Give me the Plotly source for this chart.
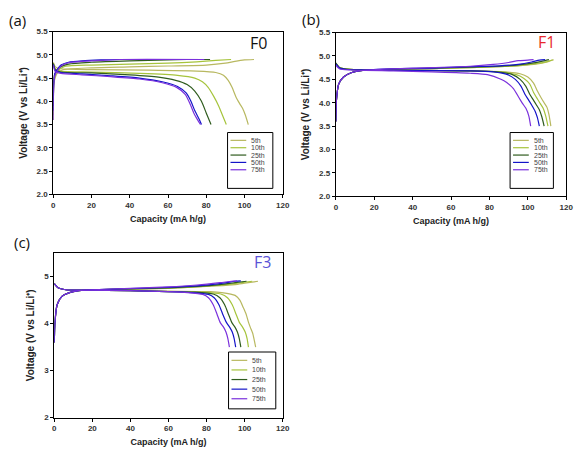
import plotly.graph_objects as go

CYCLE_LABELS = ["5th", "10th", "25th", "50th", "75th"]
CYCLE_COLORS = ["#b8b860", "#a6c43c", "#2f5c1e", "#1414c8", "#7a30dc"]
X_TICKS = [0, 20, 40, 60, 80, 100, 120]
Y_TICKS_AB = [2.0, 2.5, 3.0, 3.5, 4.0, 4.5, 5.0, 5.5]
Y_TICKS_C = [2, 3, 4, 5]
PANEL_TAGS = ["(a)", "(b)", "(c)"]
SAMPLE_NAMES = ["F0", "F1", "F3"]
SAMPLE_COLORS = ["#111111", "#e8282c", "#5a52d6"]

# ---------------- F0 (a): charge points, None, discharge points ----------------
F0_5th_cap = [0, 0.4, 2, 5, 20, 40, 60, 80, 90, 95, 100, 105, None,
              0, 1, 4, 20, 50, 75, 85, 89, 91.5, 93.5, 95.5, 97.5, 99, 100.5, 102]
F0_5th_v = [3.6, 4.4, 4.6, 4.68, 4.72, 4.74, 4.76, 4.78, 4.82, 4.86, 4.89, 4.9, None,
            4.84, 4.74, 4.7, 4.68, 4.67, 4.65, 4.62, 4.56, 4.45, 4.3, 4.1, 3.95, 3.85, 3.7, 3.5]
F0_10th_cap = [0, 0.4, 2, 6, 20, 40, 60, 75, 85, 93, None,
               0, 1, 4, 20, 45, 65, 74, 78, 81, 84, 86.5, 88.5, 90.5]
F0_10th_v = [3.7, 4.45, 4.65, 4.75, 4.78, 4.8, 4.82, 4.85, 4.88, 4.9, None,
             4.82, 4.7, 4.65, 4.63, 4.6, 4.56, 4.5, 4.42, 4.3, 4.1, 3.9, 3.7, 3.5]
F0_25th_cap = [0, 0.5, 3, 8, 20, 40, 60, 70, 82, None,
               0, 1, 4, 20, 40, 55, 64, 70, 74, 77.5, 80, 82.5]
F0_25th_v = [3.9, 4.55, 4.72, 4.8, 4.84, 4.87, 4.89, 4.9, 4.9, None,
             4.82, 4.68, 4.63, 4.61, 4.57, 4.52, 4.45, 4.36, 4.22, 4.0, 3.75, 3.5]
F0_50th_cap = [0, 0.8, 4, 8, 15, 25, 35, 78, None,
               0, 1, 4, 15, 30, 45, 57, 65, 69.5, 72, 74, 76.5, 77.5]
F0_50th_v = [3.8, 4.6, 4.78, 4.84, 4.87, 4.89, 4.9, 4.9, None,
             4.8, 4.66, 4.62, 4.59, 4.55, 4.5, 4.42, 4.32, 4.18, 4.0, 3.8, 3.6, 3.5]
F0_75th_cap = [0, 0.8, 4, 8, 15, 25, 35, 79, None,
               0, 1, 4, 15, 30, 45, 57, 64.5, 69, 71.5, 73.5, 75.5, 77]
F0_75th_v = [3.6, 4.55, 4.76, 4.83, 4.86, 4.88, 4.9, 4.9, None,
             4.78, 4.64, 4.6, 4.57, 4.53, 4.48, 4.4, 4.3, 4.15, 3.95, 3.75, 3.6, 3.5]

# ---------------- F1 (b) ----------------
F1_5th_cap = [0, 0.3, 1.5, 4, 8, 14, 25, 50, 70, 85, 95, 103, 109, 113.5, None,
              0, 2, 6, 15, 40, 70, 88, 96, 100, 103, 105, 107, 108.5, 110, 111, 112]
F1_5th_v = [3.6, 4.05, 4.4, 4.55, 4.64, 4.69, 4.71, 4.73, 4.75, 4.77, 4.79, 4.82, 4.86, 4.92, None,
            4.85, 4.75, 4.72, 4.7, 4.69, 4.68, 4.66, 4.62, 4.55, 4.42, 4.25, 4.1, 4.0, 3.9, 3.75, 3.5]
F1_10th_cap = [0, 0.3, 1.5, 4, 8, 14, 25, 50, 70, 85, 96, 105, 110, 113, None,
               0, 2, 6, 15, 40, 70, 86, 94, 98, 101, 103, 105, 106.5, 108, 109.3, 110.5]
F1_10th_v = [3.6, 4.05, 4.4, 4.55, 4.64, 4.69, 4.71, 4.73, 4.75, 4.77, 4.8, 4.84, 4.88, 4.92, None,
             4.85, 4.75, 4.72, 4.7, 4.69, 4.68, 4.66, 4.6, 4.52, 4.4, 4.22, 4.08, 3.98, 3.88, 3.72, 3.5]
F1_25th_cap = [0, 0.3, 1.5, 4, 8, 14, 25, 50, 70, 85, 95, 103, 109, 111, None,
               0, 2, 6, 15, 40, 70, 84, 92, 96, 99, 101, 103, 104.5, 106, 107.3, 108.5]
F1_25th_v = [3.6, 4.05, 4.4, 4.55, 4.64, 4.69, 4.71, 4.74, 4.76, 4.78, 4.81, 4.85, 4.9, 4.92, None,
             4.85, 4.75, 4.72, 4.7, 4.69, 4.68, 4.66, 4.6, 4.5, 4.35, 4.18, 4.05, 3.95, 3.85, 3.7, 3.5]
F1_50th_cap = [0, 0.3, 1.5, 4, 8, 14, 25, 50, 70, 85, 95, 102, 106, 109, None,
               0, 2, 6, 15, 40, 70, 82, 89.5, 93.5, 96.5, 98.5, 100.5, 102, 103.8, 105, 106]
F1_50th_v = [3.6, 4.05, 4.4, 4.55, 4.64, 4.69, 4.72, 4.74, 4.77, 4.79, 4.82, 4.87, 4.91, 4.92, None,
             4.83, 4.74, 4.71, 4.7, 4.69, 4.68, 4.66, 4.6, 4.5, 4.35, 4.18, 4.05, 3.95, 3.82, 3.68, 3.5]
F1_75th_cap = [0, 0.3, 1.5, 4, 8, 14, 25, 50, 70, 82, 90, 95, 100, 103, None,
               0, 2, 8, 30, 50, 70, 79, 86, 89, 92.5, 95.5, 97.3, 99, 100.5, 101.5]
F1_75th_v = [3.6, 4.05, 4.4, 4.55, 4.64, 4.69, 4.72, 4.75, 4.78, 4.82, 4.86, 4.9, 4.91, 4.92, None,
             4.8, 4.72, 4.7, 4.68, 4.66, 4.63, 4.6, 4.5, 4.43, 4.3, 4.1, 3.98, 3.88, 3.72, 3.5]

# ---------------- F3 (c) ----------------
F3_5th_cap = [0, 0.3, 1.5, 4, 8, 13, 20, 40, 60, 75, 85, 95, 100, 107, None,
              0, 2, 6, 15, 40, 60, 82, 88, 95, 97.5, 99.2, 100.8, 102, 103, 104.2, 105, 105.8]
F3_5th_v = [3.6, 4.0, 4.4, 4.58, 4.66, 4.7, 4.72, 4.73, 4.75, 4.78, 4.8, 4.83, 4.86, 4.9, None,
            4.85, 4.76, 4.72, 4.71, 4.7, 4.69, 4.68, 4.66, 4.6, 4.5, 4.35, 4.2, 4.03, 3.92, 3.8, 3.66, 3.5]
F3_10th_cap = [0, 0.3, 1.5, 4, 8, 13, 20, 40, 60, 75, 85, 95, 104, None,
               0, 2, 6, 15, 40, 60, 78, 87.5, 91, 93.5, 95.5, 97.3, 99, 100.3, 101.3, 102]
F3_10th_v = [3.6, 4.0, 4.4, 4.58, 4.66, 4.7, 4.72, 4.73, 4.755, 4.78, 4.81, 4.85, 4.9, None,
             4.85, 4.76, 4.72, 4.71, 4.7, 4.68, 4.67, 4.63, 4.55, 4.4, 4.2, 4.02, 3.92, 3.82, 3.68, 3.5]
F3_25th_cap = [0, 0.3, 1.5, 4, 8, 13, 20, 40, 60, 75, 87, 95, 101, None,
               0, 2, 6, 15, 40, 60, 74, 83.5, 87, 89.5, 91.5, 93.3, 95, 96.2, 97.2, 98]
F3_25th_v = [3.6, 4.0, 4.4, 4.58, 4.66, 4.7, 4.72, 4.74, 4.76, 4.79, 4.83, 4.87, 4.9, None,
             4.85, 4.76, 4.72, 4.71, 4.7, 4.68, 4.67, 4.63, 4.55, 4.4, 4.2, 4.02, 3.92, 3.82, 3.68, 3.5]
F3_50th_cap = [0, 0.3, 1.5, 4, 8, 13, 20, 40, 60, 75, 87, 95, 98, None,
               0, 2, 6, 15, 40, 60, 72, 81, 84, 86.5, 88.5, 90.5, 92.2, 93.5, 94.5, 95.3]
F3_50th_v = [3.6, 4.0, 4.4, 4.58, 4.66, 4.7, 4.72, 4.745, 4.77, 4.8, 4.85, 4.9, 4.91, None,
             4.85, 4.76, 4.72, 4.71, 4.7, 4.68, 4.66, 4.62, 4.55, 4.4, 4.2, 4.02, 3.92, 3.82, 3.68, 3.5]
F3_75th_cap = [0, 0.3, 1.5, 4, 8, 13, 20, 40, 60, 75, 87, 93, 96, None,
               0, 2, 6, 15, 40, 60, 70, 78, 81, 83.5, 85.5, 87.2, 89, 90.2, 91.2, 92]
F3_75th_v = [3.6, 4.0, 4.4, 4.58, 4.66, 4.7, 4.72, 4.75, 4.78, 4.82, 4.87, 4.9, 4.91, None,
             4.85, 4.76, 4.72, 4.71, 4.7, 4.68, 4.66, 4.62, 4.55, 4.4, 4.2, 4.02, 3.92, 3.82, 3.68, 3.5]

PANEL_DATA = [
    [(F0_5th_cap, F0_5th_v), (F0_10th_cap, F0_10th_v), (F0_25th_cap, F0_25th_v),
     (F0_50th_cap, F0_50th_v), (F0_75th_cap, F0_75th_v)],
    [(F1_5th_cap, F1_5th_v), (F1_10th_cap, F1_10th_v), (F1_25th_cap, F1_25th_v),
     (F1_50th_cap, F1_50th_v), (F1_75th_cap, F1_75th_v)],
    [(F3_5th_cap, F3_5th_v), (F3_10th_cap, F3_10th_v), (F3_25th_cap, F3_25th_v),
     (F3_50th_cap, F3_50th_v), (F3_75th_cap, F3_75th_v)],
]

# The page body has an 8px margin, so the figure is shrunk by that and
# all target pixel positions are shifted by it.
OFF = 8
W, H = 586 - OFF, 455 - OFF


def fx(p):
    return (p - OFF) / W


def fy(p):
    return 1 - (p - OFF) / H


# plot-area pixel boxes (in the 586x455 window): left, right, top, bottom
BOXES = [(52, 285, 28, 194), (339, 573, 29, 196), (53, 285, 254, 422)]
LEGEND_BOXES = [(229, 275, 131, 188), (516, 560, 131, 188), (230, 278, 355, 413)]
LEGEND_ROWS = [(139, 7.5), (139, 7.5), (363.5, 9.8)]
TAG_POS = [(5, 16), (303, 15), (10, 243)]
NAME_POS = [(271, 40), (564, 39), (275, 263)]

fig = go.Figure()
axis_font = dict(family="Arial", size=8, color="#333333", weight="bold")
title_font = dict(family="Arial", size=9, color="#222222", weight="bold")

for i, data in enumerate(PANEL_DATA):
    sfx = "" if i == 0 else str(i + 1)
    for j, (cap, v) in enumerate(data):
        fig.add_trace(go.Scatter(
            x=cap, y=v, mode="lines", name=CYCLE_LABELS[j],
            line=dict(color=CYCLE_COLORS[j], width=1.2, shape="spline", smoothing=0.6),
            connectgaps=False, showlegend=False,
            xaxis="x" + sfx, yaxis="y" + sfx))
    l, r, t, b = BOXES[i]
    yt = Y_TICKS_C if i == 2 else Y_TICKS_AB
    fig.layout["xaxis" + sfx] = dict(
        domain=[fx(l), fx(r)], anchor="y" + sfx, range=[0, 120],
        tickvals=X_TICKS, ticks="outside", ticklen=3, tickcolor="black",
        showline=True, linecolor="black", linewidth=1, mirror=True,
        showgrid=False, zeroline=False, tickfont=axis_font,
        title=dict(text="Capacity (mA h/g)", font=title_font, standoff=6))
    fig.layout["yaxis" + sfx] = dict(
        domain=[fy(b), fy(t)], anchor="x" + sfx, range=[2, 5.5],
        tickvals=yt, tickformat=".0f" if i == 2 else ".1f",
        ticks="outside", ticklen=3, tickcolor="black",
        showline=True, linecolor="black", linewidth=1, mirror=True,
        showgrid=False, zeroline=False, tickfont=axis_font,
        title=dict(text="Voltage (V vs Li/Li\u207a)",
                   font=dict(family="Arial", size=10, color="#222222", weight="bold"),
                   standoff=7))

    # panel tag and sample name
    fig.add_annotation(x=fx(TAG_POS[i][0]), y=fy(TAG_POS[i][1]), xref="paper", yref="paper",
                       text=PANEL_TAGS[i], showarrow=False, xanchor="left", yanchor="middle",
                       font=dict(family="Open Sans", size=15, color="#111111"))
    fig.add_annotation(x=fx(NAME_POS[i][0]), y=fy(NAME_POS[i][1]), xref="paper", yref="paper",
                       text=SAMPLE_NAMES[i], showarrow=False, xanchor="right", yanchor="middle",
                       font=dict(family="Open Sans", size=16, color=SAMPLE_COLORS[i]))

    # legend box
    ll, lr, lt, lb = LEGEND_BOXES[i]
    fig.add_shape(type="rect", xref="paper", yref="paper",
                  x0=fx(ll), x1=fx(lr), y0=fy(lb), y1=fy(lt),
                  line=dict(color="black", width=1), fillcolor="white", layer="above")
    y0, dy = LEGEND_ROWS[i]
    for j, lab in enumerate(CYCLE_LABELS):
        yy = y0 + j * dy
        fig.add_shape(type="line", xref="paper", yref="paper",
                      x0=fx(ll + 3), x1=fx(ll + 19), y0=fy(yy), y1=fy(yy),
                      line=dict(color=CYCLE_COLORS[j], width=1.2), layer="above")
        fig.add_annotation(x=fx(ll + 22), y=fy(yy), xref="paper", yref="paper",
                           text=lab, showarrow=False, xanchor="left", yanchor="middle",
                           font=dict(family="Arial", size=7, color="#444444"))

fig.update_layout(width=W, height=H, margin=dict(l=0, r=0, t=0, b=0),
                  paper_bgcolor="white", plot_bgcolor="white", showlegend=False)
fig.write_html("out.html")
